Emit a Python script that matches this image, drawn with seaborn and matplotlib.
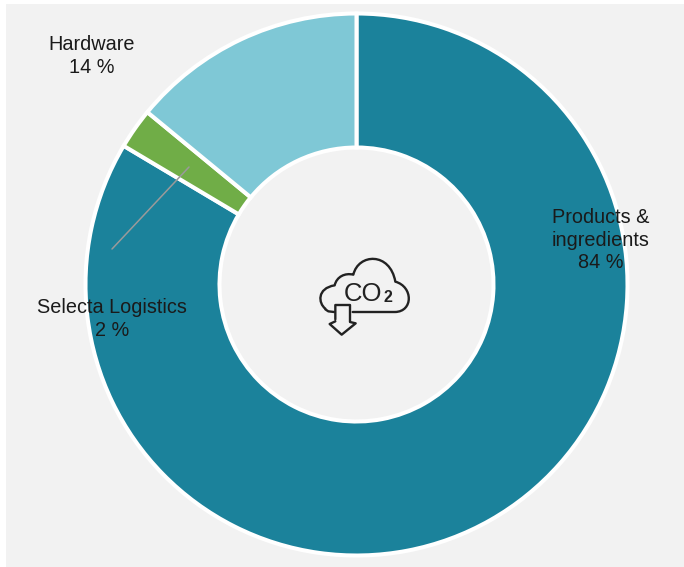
import matplotlib
matplotlib.use("Agg")
import matplotlib.pyplot as plt
import seaborn as sns
from matplotlib.patches import PathPatch, Rectangle
from matplotlib.path import Path

# fatias (sentido horario a partir do topo)
categorias = ["Products & ingredients", "Selecta Logistics", "Hardware"]
valores = [83.55, 2.42, 14.03]
rotulos = ["Products &\ningredients\n84 %", "Selecta Logistics\n2 %", "Hardware\n14 %"]
cores = ["#1B829B", "#70AD47", "#7FC8D6"]

L, H = 684, 567

sns.set_theme(style="white")
plt.rcParams["font.family"] = ["Liberation Sans", "DejaVu Sans"]


def py(y):
    # coordenada y em pixels, a partir do topo
    return H - y


fig = plt.figure(figsize=(L / 100, H / 100), dpi=100, facecolor="white")
ax = fig.add_axes([0, 0, 1, 1])
ax.add_patch(Rectangle((6, 0), L - 6, H - 4, facecolor="#F2F2F2", edgecolor="none", zorder=0))

ax.pie(
    valores,
    colors=cores,
    startangle=90,
    counterclock=False,
    center=(356.5, py(284.5)),
    radius=271,
    frame=True,
    wedgeprops=dict(width=134, edgecolor="white", linewidth=2.9),
)
ax.set_xlim(0, L)
ax.set_ylim(0, H)
ax.set_aspect("equal")
ax.axis("off")

# linha guia de Selecta Logistics
ax.plot([112, 189], [py(249), py(167)], color="#9A9A9A", lw=1.1, zorder=4)

# rotulos
posicoes = [(601, 240), (112, 319), (92, 56)]
for txt, (x, y) in zip(rotulos, posicoes):
    ax.text(x, py(y), txt, ha="center", va="center", fontsize=14.3, color="#1A1A1A",
            linespacing=1.26, zorder=5)


# icone da nuvem, em pixels
def ic(x, y):
    return (290 + x / 3, py(230 + y / 3))


M, C, LT = Path.MOVETO, Path.CURVE4, Path.LINETO
nuvem = [
    ((106, 236), M),
    ((85, 220), C), ((80, 175), C), ((134, 166), C),
    ((140, 140), C), ((165, 128), C), ((190, 134), C),
    ((205, 70), C), ((300, 65), C), ((316, 155), C),
    ((370, 170), C), ((370, 245), C), ((315, 246), C),
    ((188, 246), LT),
]
cauda = [((106, 238), M), ((115, 244), LT), ((132, 246), LT)]
seta = [
    ((136, 268), M), ((136, 225), LT), ((180, 225), LT), ((180, 276), LT),
    ((197, 280), LT), ((155, 314), LT), ((119, 282), LT), ((136, 274), LT),
]
for trecho in (nuvem, cauda, seta):
    verts = [ic(*p) for p, _ in trecho]
    codes = [c for _, c in trecho]
    ax.add_patch(PathPatch(Path(verts, codes), facecolor="none", edgecolor="#222222",
                           lw=1.7, capstyle="round", joinstyle="round", zorder=6))

ax.text(*ic(220, 191), "CO", ha="center", va="center", fontsize=18.5, color="#222222", zorder=6)
ax.text(*ic(295, 204), "2", ha="center", va="center", fontsize=11.5, fontweight="bold",
        color="#222222", zorder=6)

fig.savefig("out.png", dpi=100, facecolor="white")
